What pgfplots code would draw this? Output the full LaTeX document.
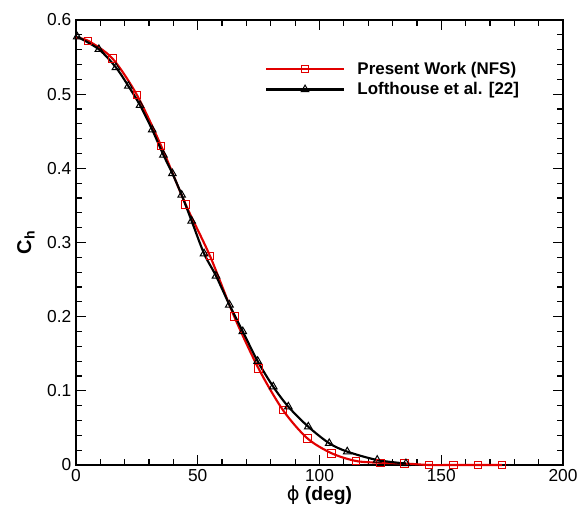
\documentclass[border=0pt]{standalone}
\usepackage{fontspec}
\setmainfont{Liberation Sans}
\newfontfamily\phifont{DejaVu Sans}
\usepackage{pgfplots}
\pgfplotsset{compat=1.18}
\definecolor{pres}{RGB}{225,0,0}
\begin{document}
\begin{tikzpicture}
\useasboundingbox (-57pt,-32.25pt) rectangle (377.25pt,348.75pt);
\begin{axis}[
  at={(0,0)}, anchor=south west,
  scale only axis, width=365.25pt, height=333.75pt,
  xmin=0, xmax=200, ymin=0, ymax=0.6,
  xtick={0,50,100,150,200},
  ytick={0,0.1,0.2,0.3,0.4,0.5,0.6},
  minor x tick num=4, minor y tick num=4,
  tick align=inside,
  xtick pos=both, ytick pos=both,
  major tick length=7.5pt, minor tick length=4.5pt,
  axis line style={line width=1.7pt},
  every tick/.style={black, line width=0.9pt},
  /pgf/number format/assume math mode=true,
  tick label style={font=\fontsize{13}{15}\selectfont},
  clip=false,
  xlabel={{\phifont ϕ} \textbf{(deg)}},
  xlabel style={font=\fontsize{14.5}{16}\selectfont, at={(axis description cs:0.5,-0.0674)}, anchor=center},
  ylabel={\textbf{C}\textsubscript{\textbf{h}}},
  ylabel style={font=\fontsize{15}{17}\selectfont, at={(axis description cs:-0.103,0.5)}, anchor=center},
  legend style={draw=none, fill=none, at={(axis description cs:0.38,0.918)}, anchor=north west,
    font=\bfseries\fontsize{12.7}{15}\selectfont, cells={anchor=west}, row sep=0.5pt},
  legend image code/.code={
    \draw[#1, mark=none] (0pt,0pt) -- (58pt,0pt);
    \path[#1, mark indices={1}] plot coordinates {(29pt,0pt)};
    \path (65.5pt,0pt);
  },
]
\addplot[color=pres, line width=1.6pt, smooth, mark=square, mark size=2.8pt, mark options={line width=0.75pt, solid}, mark indices={2,3,...,19}] coordinates {
(0,0.576) (5,0.572) (15,0.548) (25,0.499) (35,0.430) (45,0.3515) (55,0.282) (65,0.200)
(75,0.130) (85,0.074) (95,0.036) (105,0.0158) (115,0.0054) (125,0.003) (135,0.002)
(145,0) (155,0) (165,0) (175,0)
};
\addlegendentry{Present Work (NFS)}
\addplot[color=black, line width=1.6pt, smooth, mark=triangle, mark size=3.3pt, mark options={line width=0.75pt, solid}] coordinates {
(0.5,0.5775) (9.4,0.5605) (16.4,0.536) (21.5,0.511) (26.3,0.485) (31.3,0.452) (35.9,0.418)
(39.6,0.393) (43.4,0.364) (47.5,0.329) (52.6,0.285) (57.5,0.255) (63,0.216) (68.5,0.180)
(74.6,0.140) (81,0.1056) (87.2,0.0786) (95.4,0.0516) (104,0.0293) (111.4,0.018)
(123.7,0.0067) (135.5,0.002)
};
\addlegendentry{Lofthouse et al. [22]}
\end{axis}
\end{tikzpicture}
\end{document}
